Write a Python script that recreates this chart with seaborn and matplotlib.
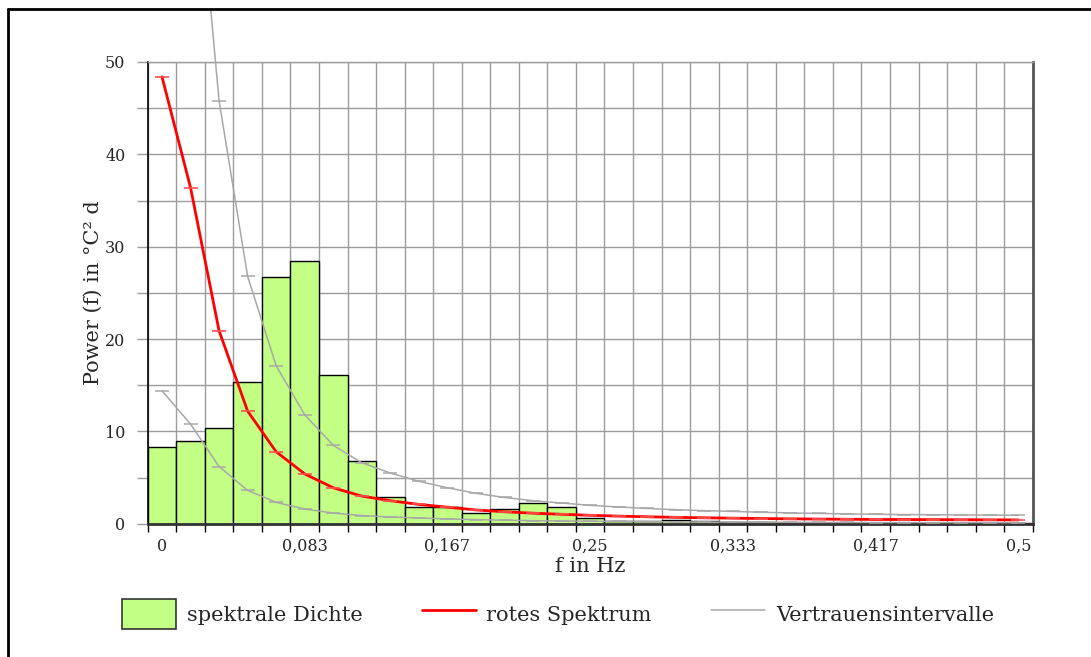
import numpy as np
import pandas as pd
import matplotlib
matplotlib.use("Agg")
import matplotlib.pyplot as plt
from matplotlib.patches import Rectangle, Patch
from matplotlib.lines import Line2D
import seaborn as sns

# ---- data ----
freq_index = list(range(31))                     # f = k/60 Hz
tick_positions = [0, 5, 10, 15, 20, 25, 30]
tick_labels = ["0", "0,083", "0,167", "0,25", "0,333", "0,417", "0,5"]

spectral_density = [8.3, 9.0, 10.4, 15.4, 26.7, 28.4, 16.1, 6.8, 2.95, 1.87,
                    1.8, 1.15, 1.55, 2.25, 1.85, 0.65, 0.3, 0.3, 0.38, 0.25,
                    0.2, 0.15, 0.12, 0.1, 0.1, 0.08, 0.08, 0.06, 0.05, 0.05, 0.04]

red_spectrum = [48.4, 36.4, 20.9, 12.2, 7.8, 5.4, 3.9, 3.0, 2.5, 2.1,
                1.8, 1.5, 1.3, 1.15, 1.03, 0.92, 0.83, 0.76, 0.7, 0.65,
                0.61, 0.57, 0.54, 0.51, 0.49, 0.47, 0.46, 0.45, 0.44, 0.43, 0.42]

ci_upper = [106.0, 79.7, 45.8, 26.8, 17.1, 11.8, 8.5, 6.6, 5.5, 4.6,
            3.9, 3.3, 2.85, 2.5, 2.25, 2.0, 1.82, 1.66, 1.53, 1.42,
            1.34, 1.25, 1.18, 1.12, 1.07, 1.03, 1.0, 0.98, 0.96, 0.94, 0.92]

ci_lower = [14.4, 10.8, 6.2, 3.62, 2.32, 1.6, 1.16, 0.89, 0.74, 0.62,
            0.53, 0.45, 0.39, 0.34, 0.31, 0.27, 0.25, 0.23, 0.21, 0.19,
            0.18, 0.17, 0.16, 0.15, 0.15, 0.14, 0.14, 0.13, 0.13, 0.13, 0.12]

legend_labels = ["spektrale Dichte", "rotes Spektrum", "Vertrauensintervalle"]

# ---- style ----
sns.set_style("white")
plt.rcParams["font.family"] = ["DejaVu Serif"]

W, H = 1091, 657
fig = plt.figure(figsize=(W / 100, H / 100), dpi=100)
ax = fig.add_axes([147.7 / W, (H - 523.8) / H, 885 / W, (523.8 - 62) / H])

BAR = "#c2ff84"
GRID = "#9c9c9c"
GRAY = "#a8a8a8"

df = pd.DataFrame({"k": freq_index, "density": spectral_density})
sns.barplot(data=df, x="k", y="density", color=BAR, saturation=1, width=1,
            edgecolor="black", linewidth=1, ax=ax, zorder=2)

sns.lineplot(x=freq_index, y=ci_lower, ax=ax, color=GRAY, lw=1.1,
             marker="_", markersize=10, markeredgewidth=1.1,
             markeredgecolor=GRAY, legend=False, zorder=3)
sns.lineplot(x=freq_index, y=ci_upper, ax=ax, color=GRAY, lw=1.1,
             marker="_", markersize=10, markeredgewidth=1.1,
             markeredgecolor=GRAY, legend=False, zorder=3)
upper_line = ax.lines[-1]
upper_line.set_clip_path(Rectangle((9 / W, 0), 1, (H - 10) / H,
                                   transform=fig.transFigure))
sns.lineplot(x=freq_index, y=red_spectrum, ax=ax, color="#ff0000", lw=2,
             marker="_", markersize=10, markeredgewidth=1.2,
             markeredgecolor="#ff5050", legend=False, zorder=4)

ax.set_xlim(-0.5, 30.5)
ax.set_ylim(0, 50)

# x ticks: marks at bar edges, labels at bar centres
ax.set_xticks(np.arange(-0.5, 31, 1), labels=[""] * 32)
ax.set_xticks(tick_positions, labels=tick_labels, minor=True)
ax.tick_params(axis="x", which="major", direction="out", length=6, width=1,
               color="black", bottom=True)
ax.tick_params(axis="x", which="minor", length=0, pad=10, labelsize=11.5,
               bottom=True)

ax.set_yticks(np.arange(0, 51, 10))
ax.set_yticks(np.arange(5, 50, 10), minor=True)
ax.tick_params(axis="y", which="both", direction="out", length=8, width=1,
               color=GRID, left=True, pad=8, labelsize=11.5)

ax.xaxis.grid(True, which="major", color=GRID, lw=1.0)
ax.xaxis.grid(False, which="minor")
ax.yaxis.grid(True, which="both", color=GRID, lw=1.0)
ax.set_axisbelow(True)

ax.spines["left"].set_color("black")
ax.spines["left"].set_linewidth(1.2)
ax.spines["bottom"].set_color("#333333")
ax.spines["bottom"].set_linewidth(2)
ax.spines["right"].set_color("#555555")
ax.spines["right"].set_linewidth(2)
ax.spines["top"].set_color(GRID)
ax.spines["top"].set_linewidth(1.0)

ax.set_xlabel("f in Hz", fontsize=15, labelpad=2)
ax.set_ylabel("Power (f) in °C² d", fontsize=15, labelpad=2)

handles = [
    Patch(facecolor=BAR, edgecolor="#333333", linewidth=1.2),
    Line2D([], [], color="#ff0000", lw=2),
    Line2D([], [], color=GRAY, lw=1.1),
]
fig.legend(handles, legend_labels, loc="center", ncol=3, frameon=False,
           bbox_to_anchor=(558 / W, 1 - 614 / H), fontsize=15,
           handlelength=2.6, handleheight=1.85, handletextpad=0.5,
           columnspacing=2.85)

# outer frame (top and left)
fig.add_artist(Line2D([8 / W, 1], [1 - 9 / H, 1 - 9 / H], color="black",
                      lw=2, transform=fig.transFigure))
fig.add_artist(Line2D([8 / W, 8 / W], [0, 1 - 9 / H], color="black",
                      lw=2, transform=fig.transFigure))

fig.savefig("out.png", dpi=100)
